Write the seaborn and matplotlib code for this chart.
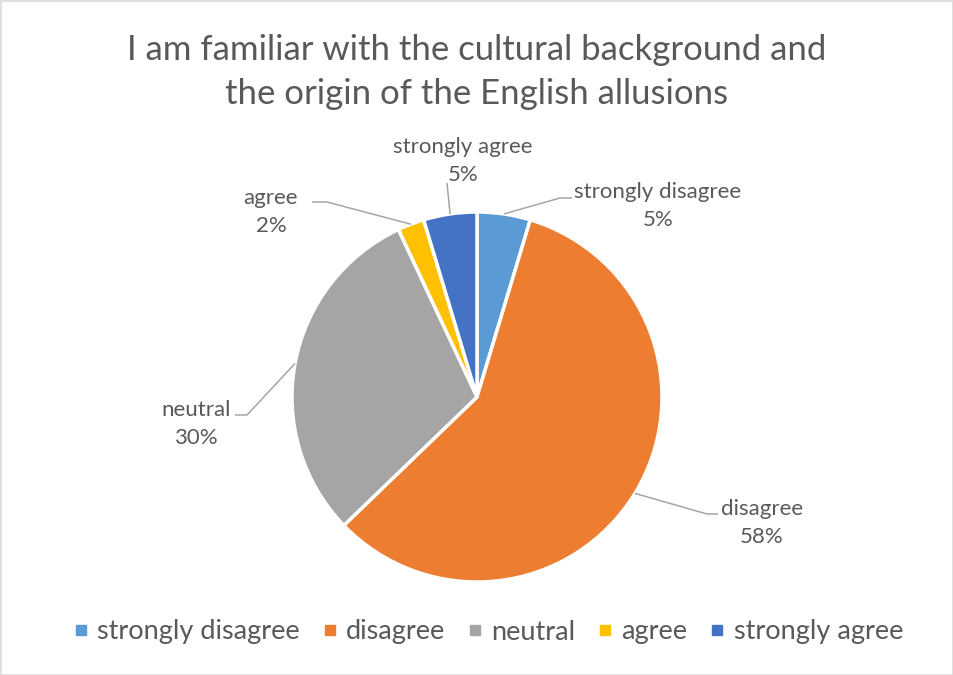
import numpy as np
import matplotlib
matplotlib.use("Agg")
import matplotlib.pyplot as plt
import seaborn as sns
from matplotlib.patches import Rectangle
from matplotlib.lines import Line2D

# Survey responses (number of respondents per answer)
categories = ["strongly disagree", "disagree", "neutral", "agree", "strongly agree"]
responses = [2, 25, 13, 1, 2]
colors = ["#5B9BD5", "#ED7D31", "#A5A5A5", "#FFC000", "#4472C4"]
title_lines = ["I am familiar with the cultural background and",
               "the origin of the English allusions"]

sns.set_theme(style="white")
plt.rcParams["font.family"] = ["Lato", "DejaVu Sans"]

TEXT = "#595959"
LEADER = "#A6A6A6"
W, H = 954, 675

fig = plt.figure(figsize=(W / 100, H / 100), dpi=100)
ax = fig.add_axes([0, 0, 1, 1])


def py(y):
    """Convert a top-down pixel row to the axes' bottom-up y coordinate."""
    return H - y


cx, cy, r = 477, py(397), 185
wedges, _ = ax.pie(responses, colors=colors, startangle=90, counterclock=False,
                   center=(cx, cy), radius=r,
                   wedgeprops=dict(edgecolor="white", linewidth=2.5))
ax.set_xlim(0, W)
ax.set_ylim(0, H)
ax.set_aspect("equal")
ax.axis("off")

total = sum(responses)
pcts = [round(100 * v / total) for v in responses]

# label block centre, leader elbow and leader end (pixel layout, top-down)
label_layout = {
    "strongly disagree": dict(pos=(658, 206), path=[(560, 198), (572, 198)]),
    "disagree": dict(pos=(762, 523), path=[(707, 514), (718, 514)]),
    "neutral": dict(pos=(196, 424), path=[(247, 415), (235, 415)]),
    "agree": dict(pos=(271, 212), path=[(327, 202), (312, 202)]),
    "strongly agree": dict(pos=(463, 161), path=[(447, 183)]),
}

for w, cat, p in zip(wedges, categories, pcts):
    mid = np.deg2rad((w.theta1 + w.theta2) / 2)
    x0, y0 = cx + r * np.cos(mid), cy + r * np.sin(mid)
    lay = label_layout[cat]
    xs = [x0] + [q[0] for q in lay["path"]]
    ys = [y0] + [py(q[1]) for q in lay["path"]]
    ax.plot(xs, ys, color=LEADER, lw=1.1, solid_capstyle="butt", zorder=1)
    ax.text(lay["pos"][0], py(lay["pos"][1]), f"{cat}\n{p}%", ha="center",
            va="center", fontsize=16, color=TEXT, linespacing=1.5)

fig.text(0.5, 1 - 72 / H, "\n".join(title_lines), ha="center", va="center",
         fontsize=25, color=TEXT, linespacing=1.5)

handles = [Line2D([], [], marker="s", linestyle="", markersize=7.5, color=c)
           for c in colors]
fig.legend(handles, categories, loc="center", bbox_to_anchor=(488 / W, 1 - 632 / H),
           ncol=5, frameon=False, fontsize=19.5, handlelength=0.6,
           handletextpad=0.3, columnspacing=0.8, labelcolor=TEXT)

fig.patches.append(Rectangle((0.5 / W, 0.5 / H), 1 - 1 / W, 1 - 1 / H,
                             transform=fig.transFigure, fill=False,
                             edgecolor="#D9D9D9", lw=1.2))

fig.savefig("out.png", dpi=100)
